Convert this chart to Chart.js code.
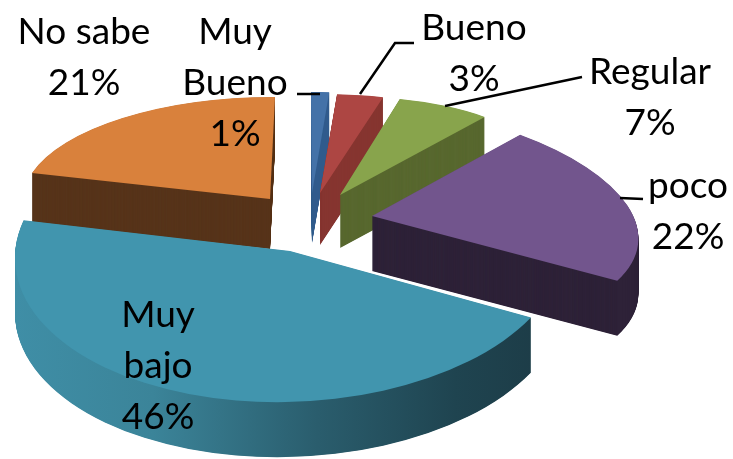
<!DOCTYPE html>
<html>
<head>
<meta charset="utf-8">
<title>Pie</title>
<script src="https://cdn.jsdelivr.net/npm/chart.js@4/dist/chart.umd.js"></script>
<style>
html, body { margin: 0; padding: 0; background: #fff; }
canvas { display: block; filter: blur(0.5px); }
</style>
</head>
<body>
<canvas id="pie" width="733" height="459"></canvas>
<script>
const categories = ["Muy Bueno", "Bueno", "Regular", "poco", "Muy bajo", "No sabe"];
const percents = [1, 3, 7, 22, 46, 21];

const topColors = ["#4472a8", "#ad4643", "#88a44c", "#72558d", "#4195ae", "#d9813c"];
const wallColors = ["#325d8e", "#863530", "#58682f", "#2e2238", null, "#57341a"];
const tealWallStops = [[0, "#3f8ea6"], [0.25, "#3b8499"], [0.55, "#2a5d6d"], [0.8, "#1f4450"], [1, "#1c3a45"]];

// where each exploded slice sits: tip position and its tilt matrix (per 100 units of radius)
const BASE_RADIUS = 100;
const tips = [[312, 193], [320, 193], [340, 195], [372, 216], [290, 251], [270, 199]];
const tilts = [
	[290, 0, 1, 101],
	[248, 0.4, -1.5, 99],
	[221, -4, -5, 98],
	[265, 11, 27, 114.5],
	[275, -7, 0, 151],
	[247, 0.6, -5, 102],
];
const depths = [50, 52, 53, 55, 55, 50];
const paintOrder = [0, 1, 2, 5, 3, 4];

const labelSpots = [
	{ x: 235, y: 32, wrap: true },
	{ x: 474, y: 28, wrap: false },
	{ x: 650, y: 72, wrap: false },
	{ x: 688, y: 186, wrap: false },
	{ x: 158, y: 315, wrap: true },
	{ x: 84, y: 32, wrap: false },
];
const leaders = [
	[[297, 94], [320, 94]],
	[[360, 94], [395, 43], [414, 43]],
	[[445, 106], [582, 77]],
	[[620, 198], [643, 199]],
];

function placeSlice(ctx, arc, i, drop) {
	const t = tilts[i];
	ctx.translate(tips[i][0], tips[i][1] + drop);
	ctx.transform(t[0] / BASE_RADIUS, t[1] / BASE_RADIUS, t[2] / BASE_RADIUS, t[3] / BASE_RADIUS, 0, 0);
	ctx.translate(-arc.x, -arc.y);
}

function flatOptions(fill) {
	return { backgroundColor: fill, borderWidth: 0, borderColor: fill, offset: 0, spacing: 0, circular: true, borderAlign: "center" };
}

const slices3d = {
	id: "slices3d",
	beforeDraw(chart) {
		chart.ctx.save();
		chart.ctx.fillStyle = "#fff";
		chart.ctx.fillRect(0, 0, chart.width, chart.height);
		chart.ctx.restore();
	},
	beforeDatasetsDraw(chart) {
		const ctx = chart.ctx;
		const arcs = chart.getDatasetMeta(0).data;
		paintOrder.forEach((i) => {
			const arc = arcs[i];
			let wall = wallColors[i];
			if (!wall) {
				wall = ctx.createLinearGradient(arc.x - BASE_RADIUS, 0, arc.x + BASE_RADIUS, 0);
				tealWallStops.forEach((s) => wall.addColorStop(s[0], s[1]));
			}
			const original = arc.options;
			arc.options = flatOptions(wall);
			for (let d = depths[i]; d > 0; d -= 0.5) {
				ctx.save();
				placeSlice(ctx, arc, i, d);
				arc.draw(ctx);
				ctx.restore();
			}
			arc.options = flatOptions(topColors[i]);
			ctx.save();
			placeSlice(ctx, arc, i, 0);
			arc.draw(ctx);
			ctx.restore();
			arc.options = original;
		});
		return false;
	},
	afterDraw(chart) {
		const ctx = chart.ctx;
		ctx.save();
		ctx.strokeStyle = "#000";
		ctx.lineWidth = 2.5;
		leaders.forEach((line) => {
			ctx.beginPath();
			line.forEach((p, n) => (n ? ctx.lineTo(p[0], p[1]) : ctx.moveTo(p[0], p[1])));
			ctx.stroke();
		});
		ctx.fillStyle = "#000";
		ctx.font = "37px Lato";
		ctx.textAlign = "center";
		ctx.textBaseline = "middle";
		categories.forEach((name, i) => {
			const spot = labelSpots[i];
			const lines = spot.wrap ? name.split(" ") : [name];
			lines.push(percents[i] + "%");
			lines.forEach((text, n) => ctx.fillText(text, spot.x, spot.y + n * 51));
		});
		ctx.restore();
	},
};

new Chart(document.getElementById("pie"), {
	type: "pie",
	data: {
		labels: categories,
		datasets: [{ data: percents, backgroundColor: topColors, borderWidth: 0, radius: BASE_RADIUS }],
	},
	options: {
		responsive: false,
		animation: false,
		plugins: { legend: { display: false }, tooltip: { enabled: false } },
	},
	plugins: [slices3d],
});
</script>
</body>
</html>
